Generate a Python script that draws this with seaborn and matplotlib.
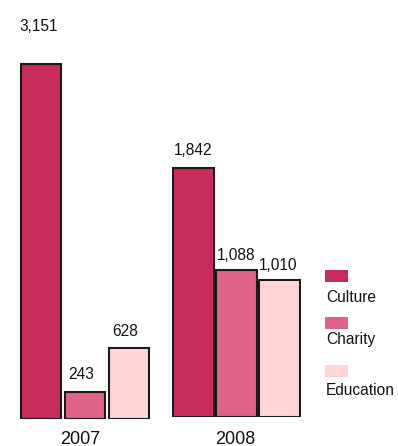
import matplotlib
matplotlib.use("Agg")
import matplotlib.pyplot as plt
import seaborn as sns
import pandas as pd
from matplotlib.patches import Rectangle

# Giving by cause, per year
years = ["2007", "2008"]
causes = ["Culture", "Charity", "Education"]
giving_2007 = [3151, 243, 628]
giving_2008 = [1842, 1088, 1010]
palette = ["#C92B5B", "#DE6387", "#FFD5D8"]

sns.set_theme(style="white")
plt.rcParams["font.family"] = ["Liberation Sans", "DejaVu Sans"]

W, H = 398, 446
fig = plt.figure(figsize=(W / 100, H / 100), dpi=100)
PT = 0.72  # points per pixel at 100 dpi

# Each year group gets its own panel (pixel layout and vertical scale)
panels = [
    dict(year=years[0], values=giving_2007, left=19, right=151, base=419,
         scale=0.11257, gap=0.07, year_x=80,
         label_dx=[-2.5, -4, -4], label_dy=[33.6, 12.3, 12.3]),
    dict(year=years[1], values=giving_2008, left=172, right=301, base=417,
         scale=0.13545, gap=0.045, year_x=235,
         label_dx=[0, 0, -1], label_dy=[12.5, 9.3, 9.7]),
]

text_color = "#111111"

for pnl in panels:
    top = 5
    height_px = pnl["base"] - top
    ax = fig.add_axes([pnl["left"] / W, 1 - pnl["base"] / H,
                       (pnl["right"] - pnl["left"]) / W, height_px / H])
    df = pd.DataFrame({"year": pnl["year"], "cause": causes, "value": pnl["values"]})
    sns.barplot(data=df, x="year", y="value", hue="cause", hue_order=causes,
                palette=palette, saturation=1, edgecolor="#1a1a1a",
                linewidth=1.5, gap=pnl["gap"], width=0.8, legend=False, ax=ax)
    ax.set_xlim(-0.4, 0.4)
    ax.set_ylim(0, height_px / pnl["scale"])
    ax.axis("off")

    bars = sorted(ax.patches, key=lambda p: p.get_x())
    for p, dx, dy in zip(bars, pnl["label_dx"], pnl["label_dy"]):
        val = p.get_height()
        ax.annotate(f"{val:,.0f}", (p.get_x() + p.get_width() / 2, val),
                    xytext=(dx * PT, dy * PT), textcoords="offset points",
                    ha="center", va="baseline", fontsize=11.2, color=text_color)

    fig.text(pnl["year_x"] / W, 1 - 443.5 / H, pnl["year"], ha="center",
             va="baseline", fontsize=13, color=text_color)

# Legend: colour swatch with the cause name underneath
swatch_tops = [270, 316.7, 365]
label_baselines = [302.3, 344, 395]
for cause, color, sy, ty in zip(causes, palette, swatch_tops, label_baselines):
    fig.add_artist(Rectangle((325 / W, 1 - (sy + 12) / H), 23 / W, 12 / H,
                             transform=fig.transFigure, facecolor=color,
                             edgecolor="none"))
    fig.text(326 / W, 1 - ty / H, cause, ha="left", va="baseline",
             fontsize=11.2, color=text_color)

fig.savefig("out.png", dpi=100)
